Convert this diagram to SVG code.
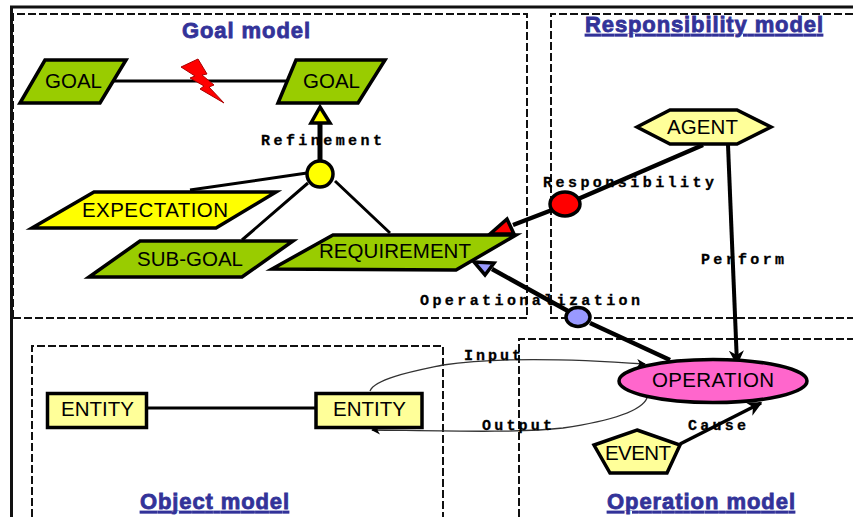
<svg xmlns="http://www.w3.org/2000/svg" width="853" height="517" viewBox="0 0 853 517">
<defs>
<marker id="open" viewBox="0 0 10 10" refX="9" refY="5" markerWidth="9" markerHeight="9" orient="auto" markerUnits="userSpaceOnUse"><path d="M0 0L10 5L0 10L3 5Z" fill="#000"/></marker>
<marker id="openL" viewBox="0 0 10 10" refX="9" refY="5" markerWidth="15" markerHeight="15" orient="auto" markerUnits="userSpaceOnUse"><path d="M0 0L10 5L0 10L3 5Z" fill="#000"/></marker>
</defs>
<style>
.frame{fill:none;stroke:#111;stroke-width:3}
.zone{fill:none;stroke:#111;stroke-width:2;stroke-dasharray:8 3}
.shape{stroke:#000;stroke-width:3.5;stroke-linejoin:miter}
.green{fill:#99cc00}.yellow{fill:#ffff00}.pale{fill:#ffff99}.pink{fill:#ff66cc}.blue{fill:#9999ff}.red{fill:#ff0000}
.line{fill:none;stroke:#000}
.thin{fill:none;stroke:#333;stroke-width:1.3}
.n{font-family:"Liberation Sans",Arial,sans-serif;font-size:20.500px;fill:#000}
.t{font-family:"Liberation Sans",Arial,sans-serif;font-weight:bold;font-size:22px;fill:#333399;stroke:#333399;stroke-width:.8}
.u{text-decoration:underline}
.c{font-family:"Liberation Mono","Courier New",monospace;font-weight:bold;font-size:15px;fill:#000;stroke:#000;stroke-width:.3}
</style>
<rect width="853" height="517" fill="#fff"/>
<g id="zones">
<path class="frame" d="M853 7H11.500V517"/>
<path class="zone" d="M13 318V14H527V318ZM13 318H527"/>
<path class="zone" d="M853 14H551V318H853"/>
<path class="zone" d="M32 517V346H443V517"/>
<path class="zone" d="M519 517V339H853"/>
<text class="t" x="182" y="38" textLength="128">Goal model</text>
<text class="t u" x="585" y="32" textLength="238">Responsibility model</text>
<text class="t u" x="140" y="509" textLength="149">Object model</text>
<text class="t u" x="607" y="509" textLength="188">Operation model</text>
</g>
<g id="connectors">
<path class="line" stroke-width="3" d="M110 81H292"/>
<path class="line" stroke-width="5" d="M320 120V162"/>
<path class="line" stroke-width="3" d="M307 173L190 190M308 183L242 240M335 181L390 233"/>
<path class="line" stroke-width="4.500" d="M703 145L578 199M552 210L513 225"/>
<path class="line" stroke-width="4.500" d="M492 269L568 311"/>
<path class="line" stroke-width="4.500" d="M590 323L670 360"/>
<path class="line" stroke-width="4" marker-end="url(#openL)" d="M728 145L737 364"/>
<path class="line" stroke-width="3.500" marker-end="url(#openL)" d="M680 444L761 403"/>
<path class="line" stroke-width="3" d="M147 408H315"/>
<path class="thin" marker-end="url(#open)" d="M370 391C375 378 420 370 443 365C490 358 560 358 645 364"/>
<path class="thin" marker-end="url(#open)" d="M647 398C640 415 590 424 563 428C520 433 450 431 372 430"/>
<polygon class="shape yellow" points="320,107 311,123 330,123"/>
<polygon class="shape red" points="507,219 490,234 514,234"/>
<polygon class="shape blue" points="474,262 494,263 485,275"/>
<text class="c" x="261" y="145" textLength="121">Refinement</text>
<text class="c" x="543" y="187" textLength="171">Responsibility</text>
<text class="c" x="701" y="264" textLength="83">Perform</text>
<text class="c" x="420" y="305" textLength="220">Operationalization</text>
<text class="c" x="464" y="360" textLength="57">Input</text>
<text class="c" x="482" y="430" textLength="70">Output</text>
<text class="c" x="688" y="430" textLength="58">Cause</text>
</g>
<g id="goal-left"><polygon class="shape green" points="45,60 126,60 100,103 20,103"/><text class="n" x="45" y="88" textLength="57">GOAL</text></g>
<g id="goal-right"><polygon class="shape green" points="296,60 385,60 358,103 278,103"/><text class="n" x="303" y="88" textLength="57">GOAL</text></g>
<g id="conflict"><polygon class="red" stroke="#a00" stroke-width="1" points="181,67 198,59 207,74 202,75 214,85 209,87 224,103 200,89 204,86 190,78 195,76"/></g>
<g id="refinement-node"><circle class="shape yellow" cx="320" cy="174" r="13"/></g>
<g id="expectation"><polygon class="shape yellow" points="94,192 276,192 216,228 32,228"/><text class="n" x="82" y="217" textLength="146">EXPECTATION</text></g>
<g id="sub-goal"><polygon class="shape green" points="140,241 293,241 242,277 89,277"/><text class="n" x="137" y="266" textLength="106">SUB-GOAL</text></g>
<g id="requirement"><polygon class="shape green" points="333,235 516,235 456,270 272,269"/><text class="n" x="319" y="258" textLength="152">REQUIREMENT</text></g>
<g id="responsibility-node"><ellipse class="shape red" cx="565" cy="204" rx="15" ry="12"/></g>
<g id="agent"><polygon class="shape pale" points="637,127 670,110 737,110 771,127 737,144 670,144"/><text class="n" x="667" y="134" textLength="71">AGENT</text></g>
<g id="operationalization-node"><ellipse class="shape blue" cx="578" cy="317" rx="12" ry="9.500"/></g>
<g id="operation"><ellipse class="shape pink" cx="713" cy="381" rx="94" ry="21.500"/><text class="n" x="652" y="387" textLength="122">OPERATION</text></g>
<g id="event"><polygon class="shape pale" points="637,430 680,445 667,473 610,473 594,445"/><text class="n" x="605" y="460" textLength="66">EVENT</text></g>
<g id="entity-left"><rect class="shape pale" x="47.500" y="393.500" width="99" height="34"/><text class="n" x="61" y="416" textLength="73">ENTITY</text></g>
<g id="entity-right"><rect class="shape pale" x="316" y="393.500" width="106" height="34"/><text class="n" x="333" y="416" textLength="73">ENTITY</text></g>
</svg>
